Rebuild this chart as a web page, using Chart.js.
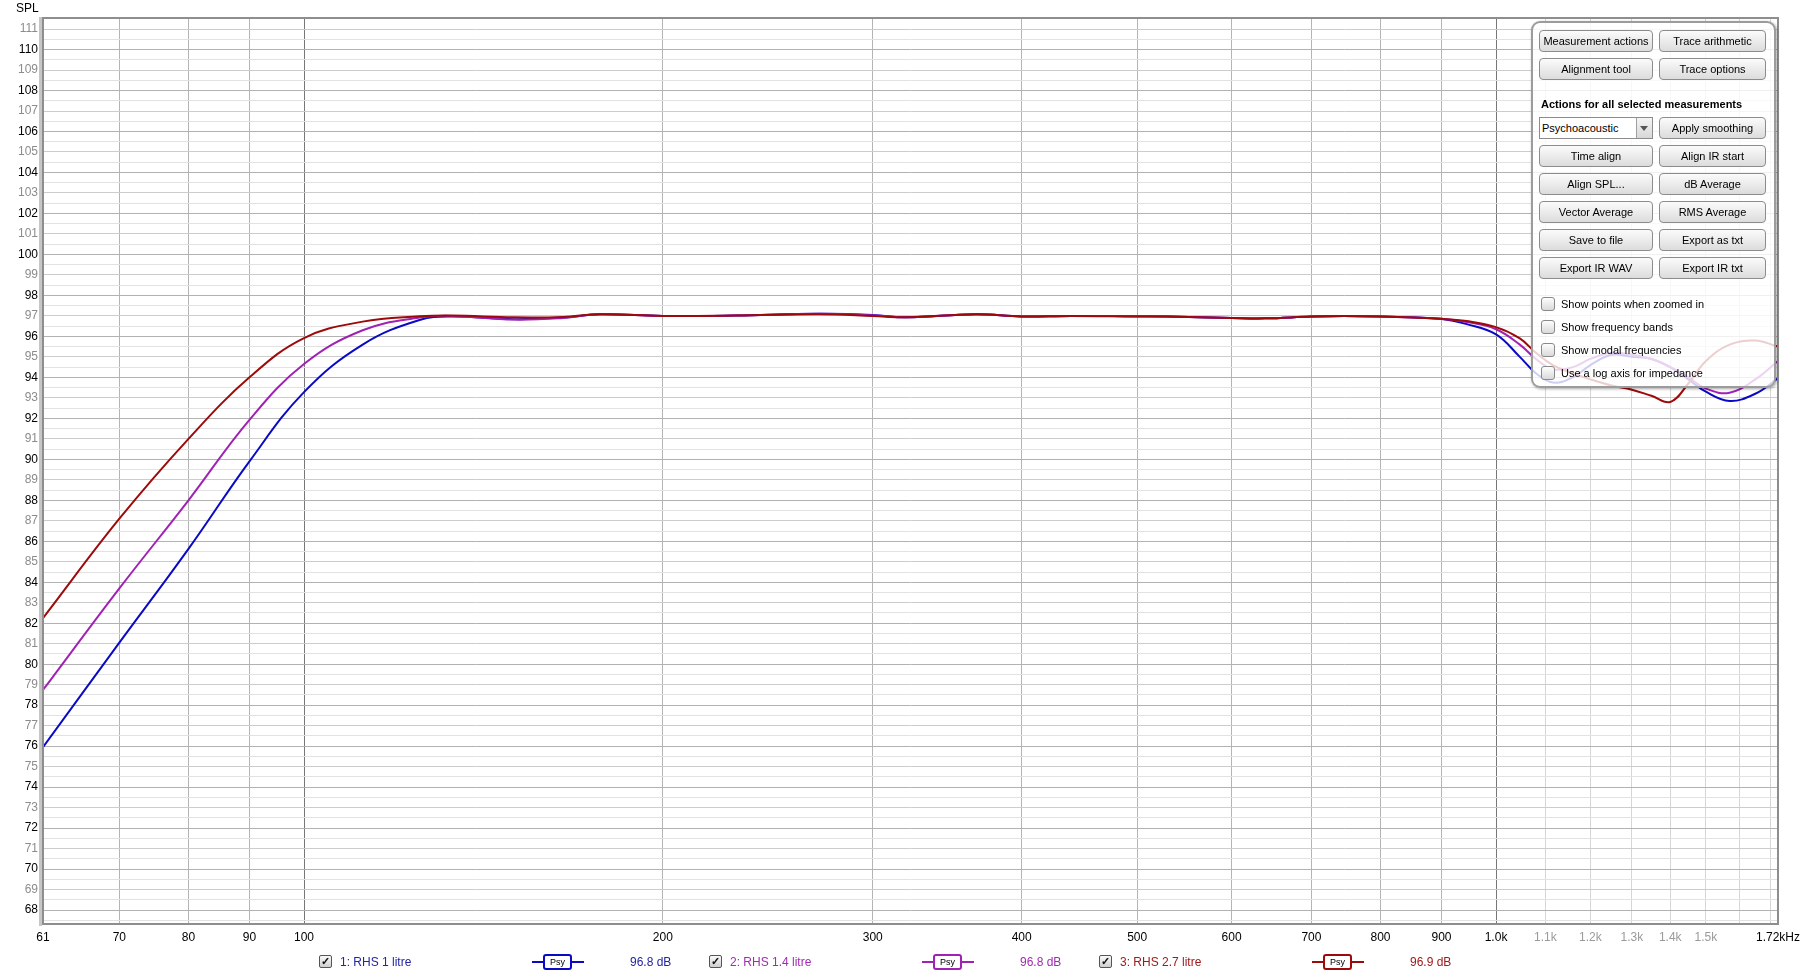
<!DOCTYPE html>
<html>
<head>
<meta charset="utf-8">
<title>SPL</title>
<script src="https://cdn.jsdelivr.net/npm/chart.js@4.4.1/dist/chart.umd.min.js"></script>
<style>
  html, body { margin: 0; padding: 0; background: #fff; }
  body { width: 1800px; height: 977px; position: relative; overflow: hidden;
         font-family: "Liberation Sans", Arial, sans-serif; }
  #chart { position: absolute; left: 0; top: 0; }
  #splLabel { position: absolute; left: 16px; top: 1px; font-size: 12px; color: #000; }

  .panel { position: absolute; left: 1531px; top: 21px; width: 245px; height: 367px;
           box-sizing: border-box; border: 2px solid #9c9c9c; border-radius: 9px;
           background: rgba(255, 255, 255, 0.8); box-shadow: 1px 1px 3px rgba(0,0,0,0.35); }
  .btn { position: absolute; height: 22px; box-sizing: border-box; border: 1px solid #8c8c8c;
         border-radius: 4px; background: linear-gradient(#fbfbfb, #dcdcdc);
         font-size: 11px; line-height: 20px; text-align: center; color: #000; }
  .bold { position: absolute; left: 8px; top: 75px; font-size: 11px; font-weight: bold; color: #000; }
  .combo { position: absolute; left: 6px; top: 94px; width: 114px; height: 22px; box-sizing: border-box;
           border: 1px solid #8c8c8c; background: #fff; font-size: 11px; line-height: 20px; padding-left: 2px; }
  .combo .arrow { position: absolute; right: 0; top: 0; width: 15px; height: 20px; border-left: 1px solid #a0a0a0;
                  background: linear-gradient(#f4f4f4, #d8d8d8); }
  .combo .arrow:after { content: ""; position: absolute; left: 3px; top: 8px; border-left: 4px solid transparent;
                        border-right: 4px solid transparent; border-top: 5px solid #555; }
  .opt { position: absolute; left: 8px; font-size: 11px; line-height: 14px; color: #000; }
  .opt .box { position: absolute; left: 0; top: 0; width: 14px; height: 14px; box-sizing: border-box;
              border: 1px solid #8a8a8a; border-radius: 3px; background: linear-gradient(#fdfdfd, #dadada); }
  .opt span { position: absolute; left: 20px; top: 0; white-space: nowrap; }

  .leg { position: absolute; top: 955px; font-size: 12px; line-height: 14px; white-space: nowrap; }
  .chk { position: absolute; top: 955px; width: 13px; height: 13px; box-sizing: border-box;
         border: 1px solid #555; border-radius: 2px; background: linear-gradient(#fafafa, #cfcfcf);
         font-size: 11px; line-height: 11px; text-align: center; font-weight: bold; color: #111; }
  .psy { position: absolute; top: 954px; width: 52px; height: 16px; }
  .psy .ln { position: absolute; left: 0; top: 7px; width: 52px; height: 2px; }
  .psy .bx { position: absolute; left: 11px; top: 0; width: 29px; height: 16px; box-sizing: border-box;
             border: 2px solid; border-radius: 3px; background: #fff; font-size: 9px; line-height: 12px;
             text-align: center; color: #000; }
</style>
</head>
<body>
<canvas id="chart" width="1800" height="977"></canvas>
<div id="splLabel">SPL</div>

<div class="panel">
  <div class="btn" style="left:6px;top:7px;width:114px">Measurement actions</div>
  <div class="btn" style="left:126px;top:7px;width:107px">Trace arithmetic</div>
  <div class="btn" style="left:6px;top:35px;width:114px">Alignment tool</div>
  <div class="btn" style="left:126px;top:35px;width:107px">Trace options</div>
  <div class="bold">Actions for all selected measurements</div>
  <div class="combo">Psychoacoustic<div class="arrow"></div></div>
  <div class="btn" style="left:126px;top:94px;width:107px">Apply smoothing</div>
  <div class="btn" style="left:6px;top:122px;width:114px">Time align</div>
  <div class="btn" style="left:126px;top:122px;width:107px">Align IR start</div>
  <div class="btn" style="left:6px;top:150px;width:114px">Align SPL...</div>
  <div class="btn" style="left:126px;top:150px;width:107px">dB Average</div>
  <div class="btn" style="left:6px;top:178px;width:114px">Vector Average</div>
  <div class="btn" style="left:126px;top:178px;width:107px">RMS Average</div>
  <div class="btn" style="left:6px;top:206px;width:114px">Save to file</div>
  <div class="btn" style="left:126px;top:206px;width:107px">Export as txt</div>
  <div class="btn" style="left:6px;top:234px;width:114px">Export IR WAV</div>
  <div class="btn" style="left:126px;top:234px;width:107px">Export IR txt</div>
  <div class="opt" style="top:274px"><div class="box"></div><span>Show points when zoomed in</span></div>
  <div class="opt" style="top:297px"><div class="box"></div><span>Show frequency bands</span></div>
  <div class="opt" style="top:320px"><div class="box"></div><span>Show modal frequencies</span></div>
  <div class="opt" style="top:343px"><div class="box"></div><span>Use a log axis for impedance</span></div>
</div>

<div id="legend"></div>

<script>
// Frequency response, 3 measurements, psychoacoustic smoothing

const X_MIN = 60.4;
const X_MAX = 1724;
const Y_MIN = 67.32;
const Y_MAX = 111.54;

const freqHz = [60.4, 70, 80, 90, 100, 112, 125, 133, 150, 165, 177, 200, 230, 270, 300, 320, 366,
    400, 440, 500, 530, 600, 640, 700, 745, 800, 900, 945, 1000, 1047, 1080, 1116, 1160, 1200, 1250, 1300,
    1350, 1400, 1450, 1500, 1570, 1650, 1724];

const rhs1Litre = [75.95, 81.05, 85.63, 89.9, 93.28, 95.6, 96.8, 96.97, 96.84, 96.92, 97.08, 97.0,
    97.02, 97.1, 97.05, 96.93, 97.08, 96.97, 97.0, 96.98, 96.97, 96.9, 96.88, 96.97, 97.0, 96.97, 96.85, 96.6,
    96.1, 95.0, 94.2, 93.75, 94.0, 94.6, 95.1, 95.0, 94.9, 94.5, 93.9, 93.3, 92.85, 93.2, 93.95];

const rhs14Litre = [78.74, 83.7, 88.0, 91.93, 94.65, 96.3, 96.92, 97.0, 96.82, 96.9, 97.08, 97.0,
    97.02, 97.1, 97.03, 96.93, 97.08, 96.97, 97.0, 96.98, 96.97, 96.9, 96.88, 96.97, 97.0, 96.97, 96.86, 96.7,
    96.35, 95.6, 94.9, 94.4, 94.5, 94.9, 95.2, 95.1, 94.9, 94.5, 94.0, 93.45, 93.25, 93.9, 94.8];

const rhs27Litre = [82.25, 87.1, 91.0, 94.0, 95.92, 96.72, 96.98, 97.02, 96.93, 96.95, 97.08, 97.0,
    97.02, 97.08, 97.0, 96.93, 97.08, 96.97, 97.0, 96.97, 96.97, 96.9, 96.88, 96.97, 97.0, 96.97, 96.86, 96.75,
    96.45, 95.9, 95.2, 94.6, 94.2, 93.9, 93.6, 93.4, 93.1, 92.8, 93.7, 94.8, 95.6, 95.8, 95.5];

const xTickValues = [X_MIN, 70, 80, 90, 100, 200, 300, 400, 500, 600, 700, 800, 900, 1000,
    1100, 1200, 1300, 1400, 1500, 1600, 1700, X_MAX];
const xTickLabels = ['61', '70', '80', '90', '100', '200', '300', '400', '500', '600', '700', '800', '900', '1.0k',
    '1.1k', '1.2k', '1.3k', '1.4k', '1.5k', '', '', '1.72kHz'];

const seriesNames = ['1: RHS 1 litre', '2: RHS 1.4 litre', '3: RHS 2.7 litre'];
const seriesLevels = ['96.8 dB', '96.8 dB', '96.9 dB'];
const seriesColors = ['#0a0ac4', '#a022b4', '#9c0a0a'];
const legendTextColors = ['#2424a4', '#a02cb0', '#a01a1a'];

const FONT = '"Liberation Sans", Arial, sans-serif';

// y ticks every half dB, labels on whole dB
const yTickValues = [];
for (let v = 67.5; v <= 111.5; v += 0.5) yTickValues.push(v);

function points(values) {
    return freqHz.map((f, i) => ({ x: f, y: values[i] }));
}

const framePlugin = {
    id: 'frame',
    afterDraw(chart) {
        const { ctx, chartArea: a } = chart;
        ctx.save();
        ctx.fillStyle = '#c6c6c6';
        ctx.fillRect(a.left - 4, a.top - 1, 3, a.bottom - a.top + 3);
        ctx.strokeStyle = '#8e8e8e';
        ctx.lineWidth = 2;
        ctx.strokeRect(a.left, a.top, a.right - a.left, a.bottom - a.top);
        ctx.restore();
    }
};

new Chart(document.getElementById('chart').getContext('2d'), {
    type: 'line',
    data: {
        datasets: [
            { label: seriesNames[2], data: points(rhs27Litre), borderColor: seriesColors[2], order: 1 },
            { label: seriesNames[1], data: points(rhs14Litre), borderColor: seriesColors[1], order: 2 },
            { label: seriesNames[0], data: points(rhs1Litre), borderColor: seriesColors[0], order: 3 }
        ]
    },
    options: {
        animation: false,
        responsive: false,
        layout: { padding: { left: 0, right: 22, top: 18, bottom: 0 } },
        elements: {
            point: { radius: 0 },
            line: { borderWidth: 2, tension: 0.4, fill: false }
        },
        plugins: {
            legend: { display: false },
            tooltip: { enabled: false }
        },
        scales: {
            x: {
                type: 'logarithmic',
                min: X_MIN,
                max: X_MAX,
                bounds: 'data',
                afterBuildTicks: s => { s.ticks = xTickValues.map(v => ({ value: v })); },
                afterFit: s => { s.height = 53; s.paddingLeft = 0; s.paddingRight = 0; },
                border: { display: false },
                grid: {
                    drawTicks: false,
                    lineWidth: 1,
                    color: c => {
                        const v = c.tick ? c.tick.value : 0;
                        if (v === X_MIN || v === X_MAX) return 'rgba(0,0,0,0)';
                        if (v === 100 || v === 1000) return '#777777';
                        if (v > 1000) return '#d6d6d6';
                        return '#b4b4b4';
                    }
                },
                ticks: {
                    autoSkip: false,
                    maxRotation: 0,
                    minRotation: 0,
                    padding: 6,
                    font: { family: FONT, size: 12 },
                    color: c => {
                        const v = c.tick ? c.tick.value : 0;
                        return (v > 1000 && v < X_MAX) ? '#9a9a9a' : '#000';
                    },
                    callback: (value, index) => xTickLabels[index]
                }
            },
            y: {
                type: 'linear',
                min: Y_MIN,
                max: Y_MAX,
                bounds: 'data',
                afterBuildTicks: s => { s.ticks = yTickValues.map(v => ({ value: v })); },
                afterFit: s => { s.width = 43; },
                border: { display: false },
                grid: {
                    drawTicks: false,
                    lineWidth: 1,
                    color: c => {
                        const v = c.tick ? c.tick.value : 0;
                        if (!Number.isInteger(v)) return '#e2e2e2';
                        return v % 2 === 0 ? '#b2b2b2' : '#cccccc';
                    }
                },
                ticks: {
                    autoSkip: false,
                    padding: 5,
                    font: { family: FONT, size: 12 },
                    color: c => {
                        const v = c.tick ? c.tick.value : 0;
                        return v % 2 === 0 ? '#000' : '#8c8c8c';
                    },
                    callback: v => Number.isInteger(v) ? String(v) : ''
                }
            }
        }
    },
    plugins: [framePlugin]
});

// bottom legend row
const legend = document.getElementById('legend');
const groupLeft = [319, 709, 1099];
seriesNames.forEach((name, i) => {
    const x = groupLeft[i];
    legend.insertAdjacentHTML('beforeend',
        `<div class="chk" style="left:${x}px">&#10003;</div>` +
        `<div class="leg" style="left:${x + 21}px;color:${legendTextColors[i]}">${name}</div>` +
        `<div class="psy" style="left:${x + 213}px"><div class="ln" style="background:${seriesColors[i]}"></div>` +
        `<div class="bx" style="border-color:${seriesColors[i]}">Psy</div></div>` +
        `<div class="leg" style="left:${x + 311}px;color:${legendTextColors[i]}">${seriesLevels[i]}</div>`);
});
</script>
</body>
</html>
